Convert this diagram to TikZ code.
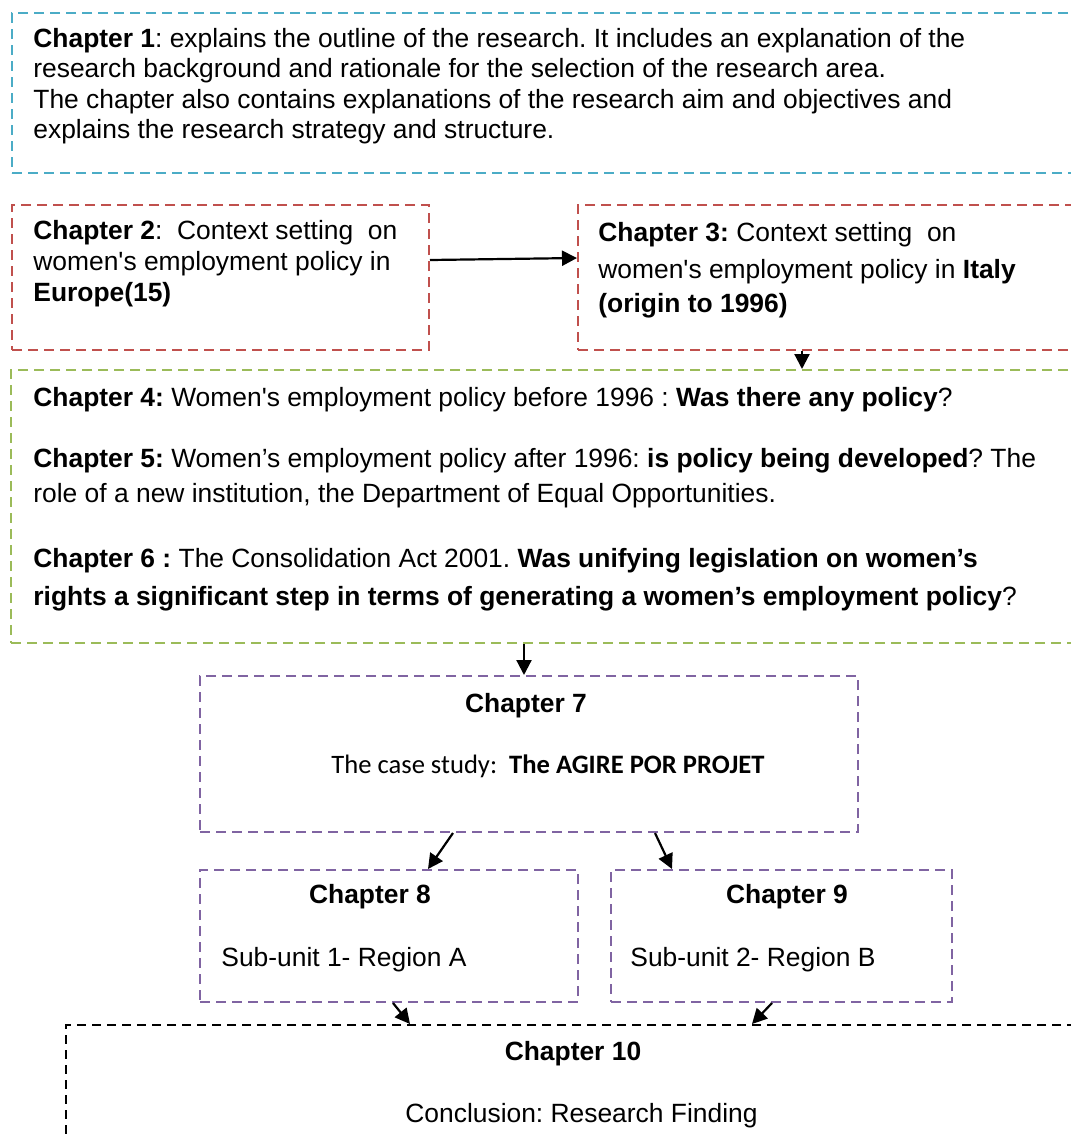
\documentclass[tikz,border=0pt]{standalone}
\usepackage{fontspec}
\setmainfont{Liberation Sans}
\newfontfamily\calibri{Carlito}
\usetikzlibrary{arrows.meta,calc}
\definecolor{cteal}{HTML}{4BACC6}
\definecolor{cred}{HTML}{C0504D}
\definecolor{cgreen}{HTML}{9BBB59}
\definecolor{cpurple}{HTML}{8064A2}
\begin{document}
\frenchspacing
\begin{tikzpicture}[x=0.5pt,y=-0.5pt,
  frame/.style={draw, line width=1pt, dash pattern=on 5pt off 3pt, rectangle, inner sep=0pt, anchor=north west},
  txt/.style={anchor=base west, inner sep=0pt, font=\fontsize{13.2}{15}\selectfont},
  ctxt/.style={anchor=base, inner sep=0pt, font=\fontsize{13.2}{15}\selectfont},
  arr/.style={-{Triangle[length=7.5pt,width=7.5pt]}, line width=1.1pt, black}]
\useasboundingbox (0,0) rectangle (1071,1137);
\clip (0,0) rectangle (1071,1137);
% boxes
\node[frame, draw=cteal, minimum width=560pt, minimum height=80pt] (b1) at (11,12) {};
\node[frame, draw=cred, minimum width=208.5pt, minimum height=72.5pt] (b2) at (11,204) {};
\node[frame, draw=cred, minimum width=260pt, minimum height=72.5pt] (b3) at (577,204) {};
\node[frame, draw=cgreen, minimum width=540pt, minimum height=136.5pt] (b4) at (10,369) {};
\node[frame, draw=cpurple, minimum width=329pt, minimum height=78pt] (b7) at (199,675) {};
\node[frame, draw=cpurple, minimum width=189pt, minimum height=66pt] (b8) at (199,869) {};
\node[frame, draw=cpurple, minimum width=170.5pt, minimum height=66pt] (b9) at (610,869) {};
\node[frame, draw=black, dash pattern=on 4.5pt off 3pt, minimum width=520pt, minimum height=80pt] (b10) at (65,1024) {};
% texts
\node[txt] (t1a) at (33,47) {\textbf{Chapter 1}: explains the outline of the research. It includes an explanation of the};
\node[txt] (t1b) at (33,77) {research background and rationale for the selection of the research area.};
\node[txt] (t1c) at (33,108) {The chapter also contains explanations of the research aim and objectives and};
\node[txt] (t1d) at (33,138) {explains the research strategy and structure.};
\node[txt] (t2a) at (33,239) {\textbf{Chapter 2}:\ \ Context setting\ \ on};
\node[txt] (t2b) at (33,270) {women\textquotesingle s employment policy in};
\node[txt] (t2c) at (33,301) {\textbf{Europe(15)}};
\node[txt] (t3a) at (598,241) {\textbf{Chapter 3:} Context setting\ \ on};
\node[txt] (t3b) at (598,278) {women\textquotesingle s employment policy in \textbf{Italy}};
\node[txt] (t3c) at (598,312) {\textbf{(origin to 1996)}};
\node[txt] (t4) at (33,406) {\textbf{Chapter 4:} Women\textquotesingle s employment policy before 1996 : \textbf{Was there any policy}?};
\node[txt] (t5a) at (33,467) {\textbf{Chapter 5:} Women’s employment policy after 1996: \textbf{is policy being developed}? The};
\node[txt] (t5b) at (33,502) {role of a new institution, the Department of Equal Opportunities.};
\node[txt] (t6a) at (33,567) {\textbf{Chapter 6 :} The Consolidation Act 2001. \textbf{Was unifying legislation on women’s}};
\node[txt] (t6b) at (33,605) {\textbf{rights a significant step in terms of generating a women’s employment policy}?};
\node[ctxt] (t7a) at (526,712) {\textbf{Chapter 7}};
\node[anchor=base west, inner sep=0pt, font=\calibri\fontsize{13.3}{15}\selectfont] (t7b) at (331,773) {The case study:\ \ \textbf{The AGIRE POR PROJET}};
\node[ctxt] (t8a) at (370,903) {\textbf{Chapter 8}};
\node[txt] (t8b) at (221,966) {Sub-unit 1- Region A};
\node[ctxt] (t9a) at (787,903) {\textbf{Chapter 9}};
\node[txt] (t9b) at (630,966) {Sub-unit 2- Region B};
\node[ctxt] (t10a) at (573,1060) {\textbf{Chapter 10}};
\node[txt] (t10b) at (405,1122) {Conclusion: Research Finding};
% arrows
\draw[arr] ([yshift=-28pt]b2.north east) -- ([yshift=-27pt]b3.north west);
\draw[arr] ([xshift=112.5pt]b3.south west) -- ([xshift=396pt]b4.north west);
\draw[arr] ([xshift=257pt]b4.south west) -- ([xshift=162.5pt]b7.north west);
\draw[arr] ([xshift=127pt]b7.south west) -- ([xshift=114.5pt]b8.north west);
\draw[arr] ([xshift=228pt]b7.south west) -- ([xshift=31pt]b9.north west);
\draw[arr] ([xshift=97pt]b8.south west) -- ([xshift=172.5pt]b10.north west);
\draw[arr] ([xshift=81pt]b9.south west) -- ([xshift=343.5pt]b10.north west);
\end{tikzpicture}
\end{document}
